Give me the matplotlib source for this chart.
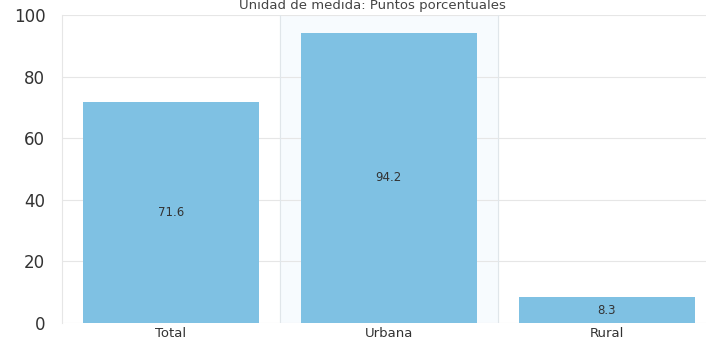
import numpy as np
import matplotlib.pyplot as plt

categorias = ["Total", "Urbana", "Rural"]
valores = [71.6, 94.2, 8.3]
etiquetas = ["71.6", "94.2", "8.3"]
yticks = [0, 20, 40, 60, 80, 100]

fig = plt.figure(figsize=(7.06, 3.45), dpi=100)
ax = fig.add_axes([0.0878, 0.0638, 0.926, 0.8927])

x = np.arange(len(categorias))
ax.axvspan(0.5, 1.5, color="#f7fbfe", zorder=0)  # columna resaltada
bars = ax.bar(x, valores, width=0.81, color="#7fc1e3", zorder=2)
for b, t in zip(bars, etiquetas):
    ax.text(b.get_x() + b.get_width() / 2, b.get_height() / 2, t,
            ha="center", va="center", fontsize=8.5, color="#333333", zorder=3)

ax.set_xlim(-0.5, 2.5)
ax.set_ylim(0, 100)
ax.set_yticks(yticks)
ax.set_xticks(x)
ax.set_xticklabels(categorias, fontsize=9.5, color="#333333")
ax.tick_params(axis="y", labelsize=12, colors="#333333", length=0, pad=12)
ax.tick_params(axis="x", length=0, pad=3)

ax.grid(axis="y", color="#e6e6e6", linewidth=0.8, zorder=0)
for xv in [0.5, 1.5]:
    ax.axvline(xv, color="#e0e6ea", linewidth=0.8, zorder=1)
for s in ["top", "right", "bottom"]:
    ax.spines[s].set_visible(False)
ax.spines["left"].set_color("#e6e6e6")
ax.set_axisbelow(True)

fig.text(0.528, 0.985, "Unidad de medida: Puntos porcentuales", ha="center",
         va="center", fontsize=9.5, color="#444444")

fig.savefig("out.png", dpi=100)
